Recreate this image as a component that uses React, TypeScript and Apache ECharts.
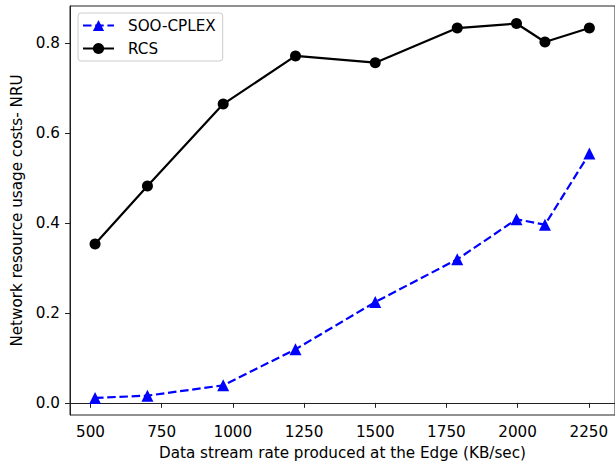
import React, { useEffect, useRef } from "react";
import * as echarts from "echarts";

// Data stream rates (KB/sec) at which both methods were measured
const streamRates = [516, 700, 966, 1220, 1500, 1788, 1996, 2096, 2252];
// Network resource usage cost (NRU) per method
const sooCplex = [0.011, 0.016, 0.039, 0.119, 0.224, 0.319, 0.408, 0.396, 0.554];
const rcs = [0.353, 0.482, 0.664, 0.771, 0.756, 0.833, 0.843, 0.802, 0.833];
// Tick positions
const xTicks = [500, 750, 1000, 1250, 1500, 1750, 2000, 2250];
const yTicks = [0, 0.2, 0.4, 0.6, 0.8];

const FONT = "DejaVu Sans";
const FS = 15.2;

export default function App() {
  const ref = useRef<HTMLDivElement>(null);

  useEffect(() => {
    if (!ref.current) return;
    const chart = echarts.init(ref.current, null, { renderer: "svg" });
    chart.setOption({
      animation: false,
      backgroundColor: "#fff",
      textStyle: { fontFamily: FONT },
      grid: {
        left: 70,
        top: 6,
        width: 551,
        height: 409,
        show: true,
        borderColor: "#222",
        borderWidth: 1,
        backgroundColor: "transparent",
      },
      legend: {
        orient: "vertical",
        left: 78,
        top: 13,
        padding: [5, 7, 5, 4],
        itemGap: 8,
        itemWidth: 31,
        itemHeight: 14,
        borderColor: "#cccccc",
        borderWidth: 1,
        borderRadius: 3,
        backgroundColor: "rgba(255,255,255,0.8)",
        textStyle: { fontFamily: FONT, fontSize: FS, color: "#000", padding: [0, 0, 0, 9] },
        data: ["SOO-CPLEX", "RCS"],
      },
      xAxis: {
        type: "value",
        min: 428,
        max: 2342,
        name: "Data stream rate produced at the Edge (KB/sec)",
        nameLocation: "middle",
        nameGap: 30,
        nameTextStyle: { fontFamily: FONT, fontSize: FS, color: "#000" },
        axisLine: { show: true, lineStyle: { color: "#222", width: 1 } },
        axisTick: { show: true, length: 5, lineStyle: { color: "#222", width: 1 }, customValues: xTicks },
        axisLabel: {
          fontFamily: FONT,
          fontSize: FS,
          color: "#000",
          margin: 9,
          customValues: xTicks,
          formatter: (v: number) => String(v),
        },
        splitLine: { show: false },
      },
      yAxis: {
        type: "value",
        min: -0.027,
        max: 0.882,
        name: "Network resource usage costs- NRU",
        nameLocation: "middle",
        nameGap: 43,
        nameTextStyle: { fontFamily: FONT, fontSize: FS, color: "#000" },
        axisLine: { show: true, lineStyle: { color: "#222", width: 1 } },
        axisTick: { show: true, length: 5, lineStyle: { color: "#222", width: 1 }, customValues: yTicks },
        axisLabel: {
          fontFamily: FONT,
          fontSize: FS,
          color: "#000",
          margin: 10,
          customValues: yTicks,
          formatter: (v: number) => v.toFixed(1),
        },
        splitLine: { show: false },
      },
      series: [
        {
          name: "SOO-CPLEX",
          type: "line",
          data: streamRates.map((x, i) => [x, sooCplex[i]]),
          symbol: "triangle",
          symbolSize: 12,
          showAllSymbol: true,
          lineStyle: { color: "#0000ff", width: 2.2, type: [8.5, 3.7] },
          itemStyle: { color: "#0000ff" },
          z: 2,
        },
        {
          name: "RCS",
          type: "line",
          data: streamRates.map((x, i) => [x, rcs[i]]),
          symbol: "circle",
          symbolSize: 11,
          showAllSymbol: true,
          lineStyle: { color: "#000000", width: 2.2 },
          itemStyle: { color: "#000000" },
          z: 3,
        },
      ],
    });
    return () => chart.dispose();
  }, []);

  return (
    <div
      ref={ref}
      style={{ position: "fixed", left: 0, top: 0, width: 615, height: 469, overflow: "hidden", background: "#fff" }}
    />
  );
}
